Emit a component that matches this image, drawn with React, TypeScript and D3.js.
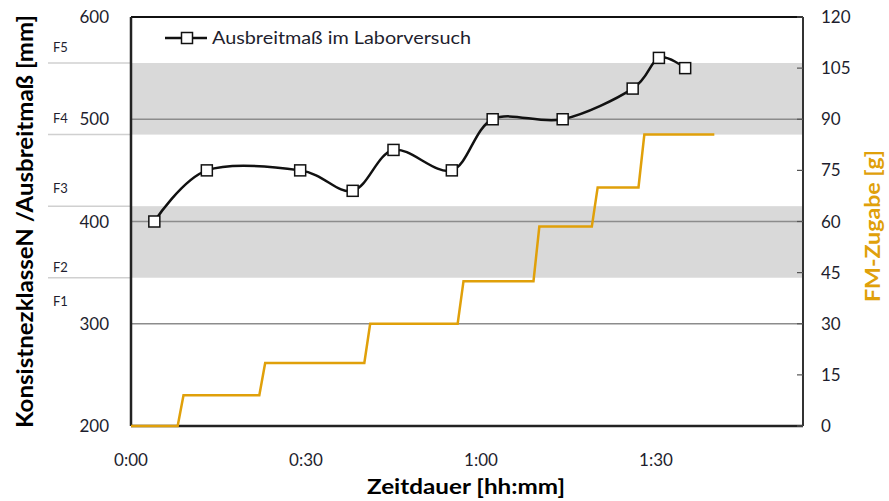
import React from "react";
import * as d3 from "d3";

// Ausbreitmaß (mm) über Zeit (min)
const flowTimes = [4, 13, 29, 38, 45, 55, 62, 74, 86, 90.5, 95];
const flowValues = [400, 450, 450, 430, 470, 450, 500, 500, 530, 560, 550];

// FM-Zugabe (g) – Stufen
const doseTimes = [0, 8, 9, 22, 23, 40, 41, 56, 57, 69, 70, 79, 80, 87, 88, 100];
const doseValues = [0, 0, 9, 9, 18.5, 18.5, 30, 30, 42.5, 42.5, 58.5, 58.5, 70, 70, 85.5, 85.5];

// Konsistenzklassen
const classBounds = [345, 415, 485, 555];
const classBands = [[345, 415], [485, 555]];
const classLabels = ["F1", "F2", "F3", "F4", "F5"];
const classLabelValues = [317, 351, 428, 496, 566];

const leftTicks = [200, 300, 400, 500, 600];
const gridValues = [300, 400, 500];
const rightTicks = [0, 15, 30, 45, 60, 75, 90, 105, 120];
const timeTicks = [0, 30, 60, 90];

const W = 889;
const H = 501;
const m = { left: 131, right: 803, top: 17, bottom: 426 };
const font = "Lato, 'Liberation Sans', sans-serif";
const orange = "#e0a00a";
const txt = "#1e1e2e";

const fmtTime = (v: number) => `${Math.floor(v / 60)}:${String(v % 60).padStart(2, "0")}`;

export default function App() {
  const x = d3.scaleLinear().domain([0, 115.2]).range([m.left, m.right]);
  const yL = d3.scaleLinear().domain([200, 600]).range([m.bottom, m.top]);
  const yR = d3.scaleLinear().domain([0, 120]).range([m.bottom, m.top]);

  const flow = flowTimes.map((t, i) => [t, flowValues[i]] as [number, number]);
  const dose = doseTimes.map((t, i) => [t, doseValues[i]] as [number, number]);

  const flowLine = d3
    .line<[number, number]>()
    .x((d) => x(d[0]))
    .y((d) => yL(d[1]))
    .curve(d3.curveCatmullRom.alpha(0));

  const doseLine = d3
    .line<[number, number]>()
    .x((d) => x(d[0]))
    .y((d) => yR(d[1]));

  return (
    <svg
      width={W}
      height={H}
      style={{ position: "absolute", left: 0, top: 0, background: "#fff" }}
      fontFamily={font}
    >
      {/* Klassenbänder */}
      {classBands.map(([a, b], i) => (
        <rect key={i} x={m.left} y={yL(b)} width={m.right - m.left} height={yL(a) - yL(b)} fill="#d9d9d9" />
      ))}
      {classBounds.map((v, i) => (
        <line key={i} x1={48} x2={m.left} y1={yL(v)} y2={yL(v)} stroke="#d0d0d0" strokeWidth={1.5} />
      ))}
      {classLabels.map((l, i) => (
        <text key={l} x={53} y={yL(classLabelValues[i])} fontSize={13} fill={txt}>
          {l}
        </text>
      ))}

      {/* Gitterlinien */}
      {gridValues.map((v) => (
        <line key={v} x1={m.left} x2={m.right} y1={yL(v)} y2={yL(v)} stroke="#8c8c8c" strokeWidth={1.5} />
      ))}

      {/* Rahmen / Achsen */}
      <line x1={m.left} x2={m.right} y1={m.top} y2={m.top} stroke="#111" strokeWidth={2} />
      <line x1={m.left} x2={m.right} y1={m.bottom} y2={m.bottom} stroke="#222" strokeWidth={2.5} />
      <line x1={m.left} x2={m.left} y1={m.top} y2={m.bottom} stroke="#222" strokeWidth={2.5} />
      <line x1={m.right} x2={m.right} y1={m.top} y2={m.bottom} stroke="#333" strokeWidth={2} />
      {rightTicks.map((v) => (
        <line key={v} x1={m.right - 6} x2={m.right} y1={yR(v)} y2={yR(v)} stroke="#555" strokeWidth={1.2} />
      ))}

      {/* Tick-Beschriftungen */}
      {leftTicks.map((v) => (
        <text key={v} x={109} y={yL(v)} dy="0.36em" textAnchor="end" fontSize={17} fill={txt}>
          {v}
        </text>
      ))}
      {rightTicks.map((v) => (
        <text key={v} x={821} y={yR(v)} dy="0.36em" fontSize={17} fill={txt}>
          {v}
        </text>
      ))}
      {timeTicks.map((v) => (
        <text key={v} x={x(v)} y={466} textAnchor="middle" fontSize={17} fill={txt}>
          {fmtTime(v)}
        </text>
      ))}

      {/* FM-Zugabe */}
      <path d={doseLine(dose) ?? ""} fill="none" stroke={orange} strokeWidth={2.5} />

      {/* Ausbreitmaß */}
      <path d={flowLine(flow) ?? ""} fill="none" stroke="#111" strokeWidth={2.5} />
      {flow.map((d, i) => (
        <rect
          key={i}
          x={x(d[0]) - 5.5}
          y={yL(d[1]) - 5.5}
          width={11}
          height={11}
          fill="#fff"
          stroke="#111"
          strokeWidth={1.5}
        />
      ))}

      {/* Legende */}
      <line x1={165} x2={207} y1={38} y2={38} stroke="#111" strokeWidth={2.5} />
      <rect x={181.5} y={32.5} width={11} height={11} fill="#fff" stroke="#111" strokeWidth={1.5} />
      <text x={212} y={44} fontSize={17} fill={txt} textLength={259} lengthAdjust="spacingAndGlyphs">
        Ausbreitmaß im Laborversuch
      </text>

      {/* Achsentitel */}
      <text
        transform={`translate(33,221.5) rotate(-90)`}
        textAnchor="middle"
        fontSize={22}
        fontWeight="bold"
        fill="#000"
        textLength={413}
        lengthAdjust="spacingAndGlyphs"
      >
        KonsistnezklasseN /Ausbreitmaß [mm]
      </text>
      <text
        x={466}
        y={494}
        textAnchor="middle"
        fontSize={21}
        fontWeight="bold"
        fill="#000"
        textLength={198}
        lengthAdjust="spacingAndGlyphs"
      >
        Zeitdauer [hh:mm]
      </text>
      <text
        transform={`translate(880,226) rotate(-90)`}
        textAnchor="middle"
        fontSize={20}
        fontWeight="bold"
        fill={orange}
        textLength={152}
        lengthAdjust="spacingAndGlyphs"
      >
        FM-Zugabe [g]
      </text>
    </svg>
  );
}
